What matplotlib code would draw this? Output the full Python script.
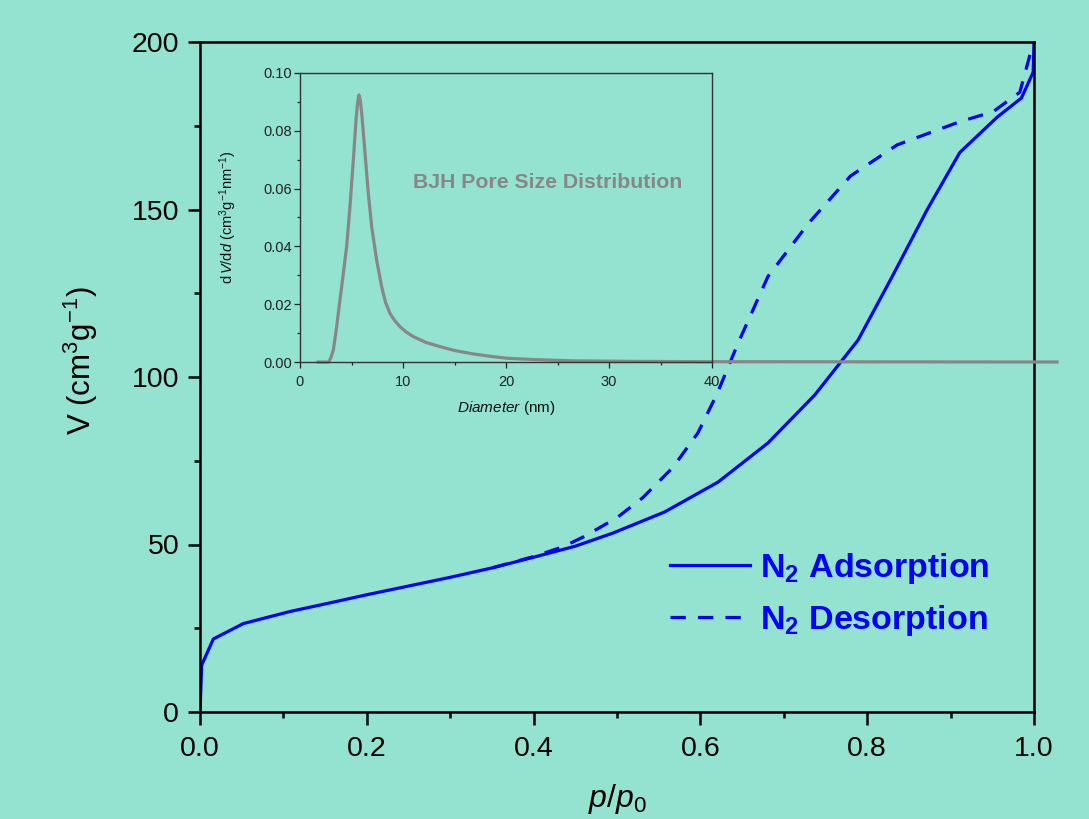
import matplotlib
matplotlib.use("Agg")
import matplotlib.pyplot as plt
from matplotlib.ticker import MultipleLocator
import numpy as np

plt.rcParams['font.family'] = ['Liberation Sans', 'DejaVu Sans']
plt.rcParams['mathtext.fontset'] = 'custom'
plt.rcParams['mathtext.rm'] = 'Liberation Sans'
plt.rcParams['mathtext.it'] = 'Liberation Sans:italic'
plt.rcParams['mathtext.bf'] = 'Liberation Sans:bold'

# ---- data: N2 isotherm ----
ads_p = [0.0, 0.002, 0.016, 0.052, 0.108, 0.16, 0.2, 0.25, 0.3, 0.35, 0.4, 0.45,
         0.495, 0.557, 0.621, 0.681, 0.737, 0.789, 0.83, 0.872, 0.911, 0.956,
         0.985, 0.999, 1.0]
ads_v = [0.0, 14.0, 21.8, 26.4, 30.0, 32.8, 35.0, 37.6, 40.2, 43.0, 46.2, 49.5,
         53.4, 59.7, 68.6, 80.3, 94.6, 111.0, 130.0, 150.0, 167.0, 177.6,
         183.3, 191.0, 200.0]
des_p = [0.35, 0.4, 0.435, 0.46, 0.5, 0.531, 0.567, 0.597, 0.62, 0.645, 0.681,
         0.73, 0.78, 0.836, 0.911, 0.951, 0.983, 1.0]
des_v = [43.0, 46.4, 49.3, 52.3, 58.0, 64.0, 73.0, 83.3, 95.0, 110.0, 130.0,
         146.0, 160.0, 169.3, 176.2, 179.2, 185.0, 200.6]

# ---- data: BJH pore size distribution ----
psd_d = [1.75, 2.8, 3.0, 3.24, 3.56, 3.88, 4.21, 4.53, 4.85, 5.18, 5.44, 5.6,
         5.73, 5.86, 6.02, 6.31, 6.63, 6.96, 7.44, 7.93, 8.3, 8.74, 9.2, 9.71,
         10.3, 11.0, 12.2, 13.6, 15.0, 16.8, 18.4, 20.1, 23.0, 26.5, 33.0,
         40.0, 55.0, 73.5]
psd_v = [0.0, 0.0, 0.0015, 0.0042, 0.0122, 0.0215, 0.0307, 0.040, 0.0537,
         0.070, 0.0837, 0.0900, 0.0924, 0.0905, 0.0849, 0.0723, 0.0584,
         0.0468, 0.0353, 0.026, 0.0207, 0.0168, 0.0143, 0.0122, 0.0104,
         0.0088, 0.0068, 0.0053, 0.0040, 0.0028, 0.0020, 0.0013, 0.0008,
         0.0004, 0.0002, 0.0001, 0.00005, 0.0]

BG = '#93e3d0'
BLUE = '#0000ff'
GRAY = '#878787'

fig = plt.figure(figsize=(10.89, 8.19), dpi=100, facecolor=BG)
ax = fig.add_axes([200/1089, 1-712/819, 834/1089, 670/819])
ax.set_facecolor('none')

ax.plot(ads_p, ads_v, color=BLUE, lw=2.3, label=r'N$_\mathbf{2}$ Adsorption')
ax.plot(des_p, des_v, color=BLUE, lw=2.3, dashes=(4.8, 3.8),
        label=r'N$_\mathbf{2}$ Desorption')

ax.set_xlim(0, 1.0)
ax.set_ylim(0, 200)
ax.xaxis.set_minor_locator(MultipleLocator(0.1))
ax.yaxis.set_minor_locator(MultipleLocator(25))
ax.set_xticks([0, 0.2, 0.4, 0.6, 0.8, 1.0])
ax.set_xticklabels(['0.0', '0.2', '0.4', '0.6', '0.8', '1.0'])
ax.set_yticks([0, 50, 100, 150, 200])
ax.set_yticklabels(['0', '50', '100', '150', '200'])
ax.tick_params(which='major', direction='out', length=9, width=1.8,
               labelsize=20.5, colors='black')
ax.tick_params(which='minor', direction='out', length=4.5, width=1.8)
ax.tick_params(axis='x', which='major', pad=8)
ax.tick_params(axis='y', which='major', pad=6)
for s in ax.spines.values():
    s.set_linewidth(1.8)
    s.set_color('black')

ax.set_xlabel(r'$p$/$p_0$', fontsize=23, labelpad=15)
fig.text(81/1089, 1-361/819, r'V (cm$^3$g$^{-1}$)', rotation=90,
         ha='center', va='center', fontsize=22.5)

leg = ax.legend(loc='lower right', bbox_to_anchor=(0.963, 0.09), frameon=False,
                fontsize=24.5, handlelength=2.35, handletextpad=0.3,
                labelspacing=0.5, borderaxespad=0)
for t in leg.get_texts():
    t.set_color(BLUE)
    t.set_fontweight('bold')

# ---- inset ----
ins = fig.add_axes([300/1089, 1-362/819, 412/1089, 289/819])
ins.set_facecolor('none')
ins.plot(psd_d, psd_v, color=GRAY, lw=2.3, clip_on=False,
         solid_joinstyle='round')
ins.set_xlim(0, 40)
ins.set_ylim(0, 0.10)
ins.xaxis.set_major_locator(MultipleLocator(10))
ins.xaxis.set_minor_locator(MultipleLocator(5))
ins.yaxis.set_minor_locator(MultipleLocator(0.01))
ins.set_yticks([0, 0.02, 0.04, 0.06, 0.08, 0.10])
ins.set_yticklabels(['0.00', '0.02', '0.04', '0.06', '0.08', '0.10'])
ins.tick_params(which='major', direction='out', length=4, width=0.9,
                labelsize=10.5, pad=2, colors='#222222')
ins.tick_params(which='minor', direction='out', length=2, width=0.9,
                colors='#222222')
ins.tick_params(axis='x', which='major', pad=5.5)
for s in ins.spines.values():
    s.set_linewidth(1.0)
    s.set_color('#333333')
ins.set_xlabel(r'$Diameter$ (nm)', fontsize=11, labelpad=7, color='#111111')
ins.set_ylabel(r'd$\,V$/d$d$ (cm$^3$g$^{-1}$nm$^{-1}$)', fontsize=10.5,
               labelpad=17, color='#111111')
ins.text(24, 0.062, 'BJH Pore Size Distribution', color=GRAY,
         fontweight='bold', fontsize=15.3, ha='center', va='center')

fig.savefig('out.png', dpi=100, facecolor=BG)
